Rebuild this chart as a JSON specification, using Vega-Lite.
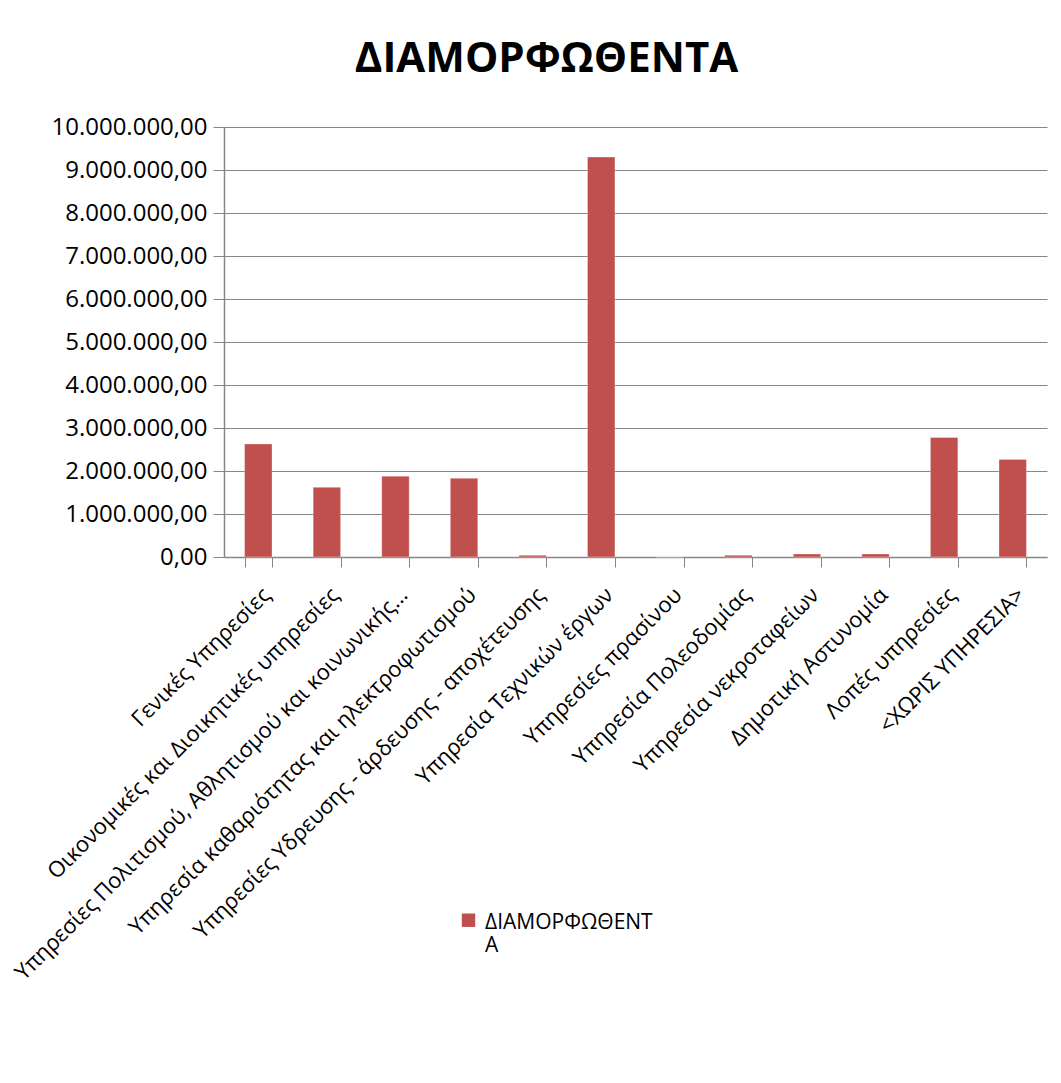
{
  "$schema": "https://vega.github.io/schema/vega-lite/v6.json",
  "autosize": {"type": "none"},
  "width": 823,
  "height": 430,
  "padding": {"left": 224, "top": 127, "right": 14, "bottom": 526},
  "background": "white",
  "title": {
    "text": "ΔΙΑΜΟΡΦΩΘΕΝΤΑ",
    "font": "Open Sans",
    "fontSize": 42,
    "fontWeight": "bold",
    "color": "#000000",
    "anchor": "middle",
    "dx": -89,
    "offset": 34
  },
  "config": {
    "locale": {"number": {"decimal": ",", "thousands": ".", "grouping": [3], "currency": ["€", ""]}},
    "view": {"stroke": null},
    "font": "Open Sans"
  },
  "data": {
    "values": [
      {"service": "Γενικές Υπηρεσίες", "value": 2630000, "series": "ΔΙΑΜΟΡΦΩΘΕΝΤΑ"},
      {"service": "Οικονομικές και Διοικητικές υπηρεσίες", "value": 1620000, "series": "ΔΙΑΜΟΡΦΩΘΕΝΤΑ"},
      {"service": "Υπηρεσίες Πολιτισμού, Αθλητισμού και κοινωνικής...", "value": 1880000, "series": "ΔΙΑΜΟΡΦΩΘΕΝΤΑ"},
      {"service": "Υπηρεσία καθαριότητας και ηλεκτροφωτισμού", "value": 1830000, "series": "ΔΙΑΜΟΡΦΩΘΕΝΤΑ"},
      {"service": "Υπηρεσίες Υδρευσης - άρδευσης - αποχέτευσης", "value": 40000, "series": "ΔΙΑΜΟΡΦΩΘΕΝΤΑ"},
      {"service": "Υπηρεσία Τεχνικών έργων", "value": 9300000, "series": "ΔΙΑΜΟΡΦΩΘΕΝΤΑ"},
      {"service": "Υπηρεσίες πρασίνου", "value": 0, "series": "ΔΙΑΜΟΡΦΩΘΕΝΤΑ"},
      {"service": "Υπηρεσία Πολεοδομίας", "value": 40000, "series": "ΔΙΑΜΟΡΦΩΘΕΝΤΑ"},
      {"service": "Υπηρεσία νεκροταφείων", "value": 70000, "series": "ΔΙΑΜΟΡΦΩΘΕΝΤΑ"},
      {"service": "Δημοτική Αστυνομία", "value": 70000, "series": "ΔΙΑΜΟΡΦΩΘΕΝΤΑ"},
      {"service": "Λοπές υπηρεσίες", "value": 2780000, "series": "ΔΙΑΜΟΡΦΩΘΕΝΤΑ"},
      {"service": "<ΧΩΡΙΣ ΥΠΗΡΕΣΙΑ>", "value": 2270000, "series": "ΔΙΑΜΟΡΦΩΘΕΝΤΑ"}
    ]
  },
  "mark": {"type": "bar", "stroke": "#ffffff", "strokeWidth": 0.5, "strokeOpacity": 0.6},
  "encoding": {
    "x": {
      "field": "service",
      "type": "nominal",
      "sort": null,
      "title": null,
      "scale": {"paddingInner": 0.6, "paddingOuter": 0.3},
      "axis": {
        "labelAngle": -45,
        "labelAlign": "right",
        "labelBaseline": "middle",
        "labelFontSize": 22,
        "labelColor": "#000000",
        "labelLimit": 800,
        "labelPadding": 24,
        "labelOffset": 8,
        "labelOverlap": false,
        "tickBand": "extent",
        "tickSize": 10,
        "tickColor": "#868686",
        "domainColor": "#868686",
        "domainWidth": 1.5
      }
    },
    "y": {
      "field": "value",
      "type": "quantitative",
      "title": null,
      "scale": {"domain": [0, 10000000], "nice": false},
      "axis": {
        "format": ",.2f",
        "values": [0, 1000000, 2000000, 3000000, 4000000, 5000000, 6000000, 7000000, 8000000, 9000000, 10000000],
        "labelFontSize": 24,
        "labelColor": "#000000",
        "labelPadding": 6,
        "tickSize": 11,
        "tickColor": "#868686",
        "domainColor": "#868686",
        "domainWidth": 1.5,
        "gridColor": "#868686",
        "gridWidth": 1.2
      }
    },
    "color": {
      "field": "series",
      "type": "nominal",
      "scale": {"range": ["#C0504D"]},
      "legend": {
        "title": null,
        "orient": "none",
        "legendX": 234,
        "legendY": 774,
        "symbolType": "M-1,0.3H1V2.3H-1Z",
        "symbolSize": 180,
        "symbolStrokeWidth": 0,
        "labelFontSize": 21,
        "labelColor": "#000000",
        "labelExpr": "['ΔΙΑΜΟΡΦΩΘΕΝΤ', 'Α']",
        "labelBaseline": "top",
        "labelOffset": 6,
        "labelLimit": 400
      }
    }
  }
}
